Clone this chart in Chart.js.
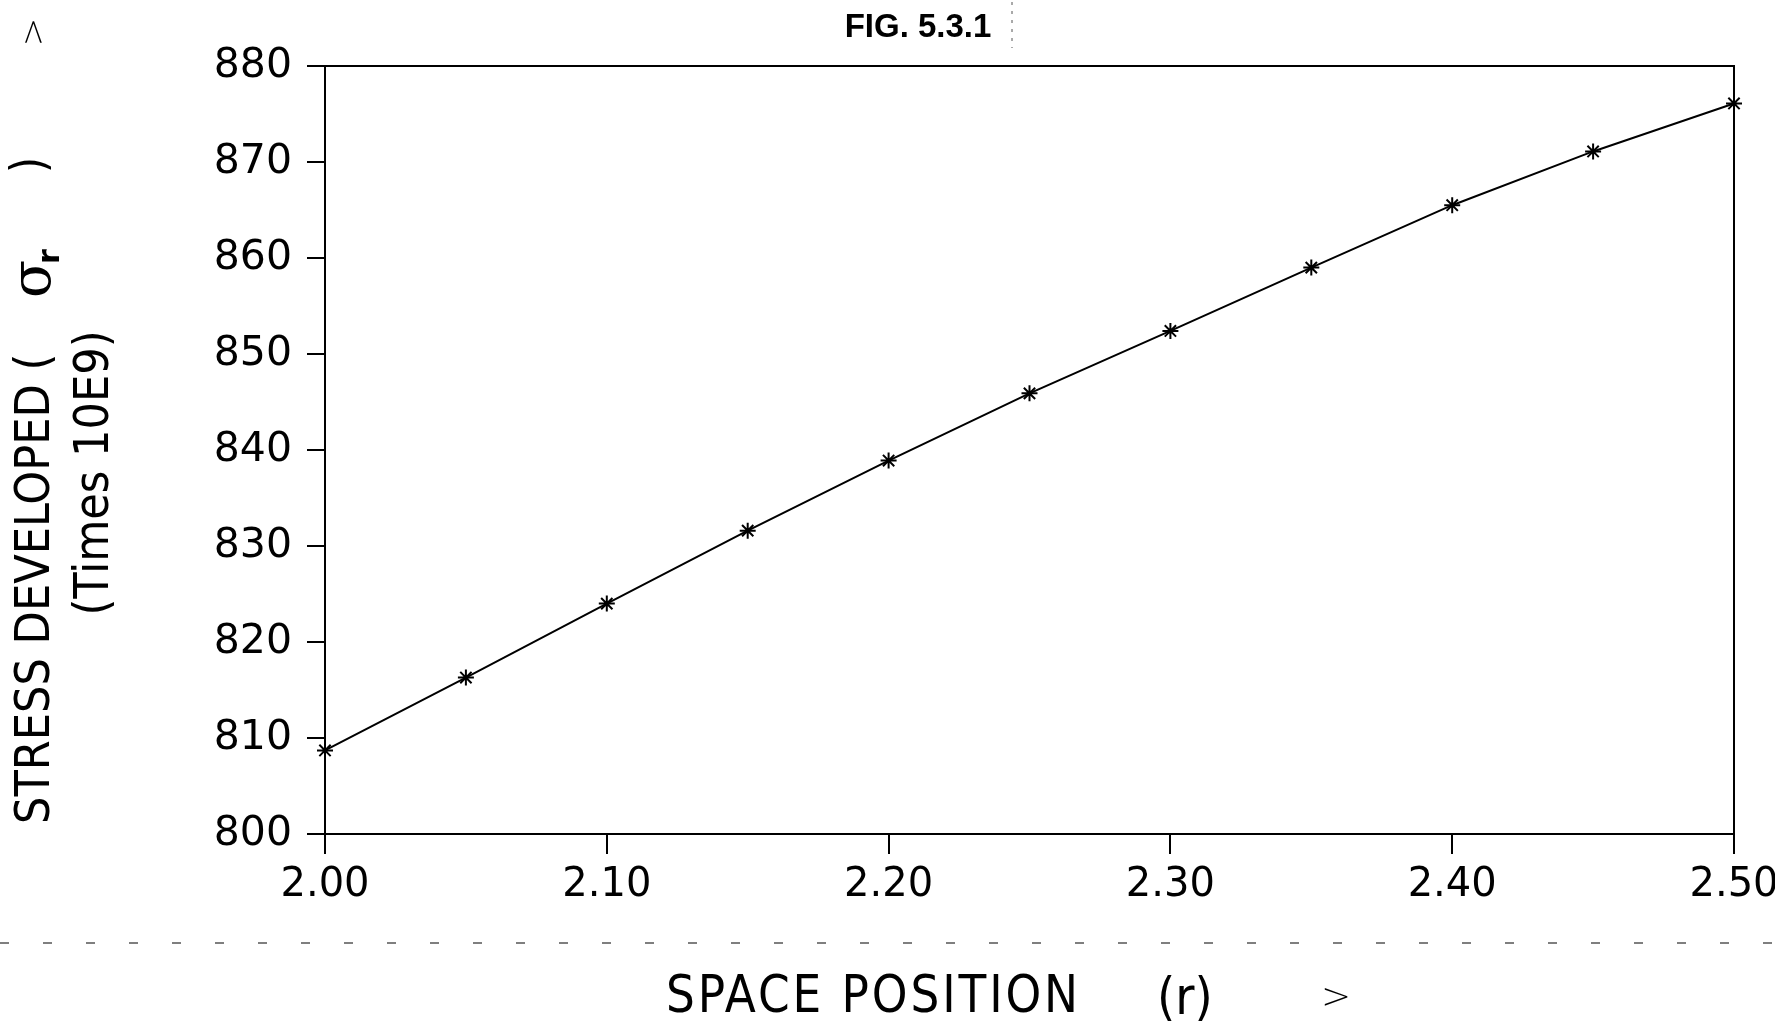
<!DOCTYPE html>
<html>
<head>
<meta charset="utf-8">
<title>FIG. 5.3.1</title>
<script src="https://cdn.jsdelivr.net/npm/chart.js@4/dist/chart.umd.min.js"></script>
<style>
    html, body { margin: 0; padding: 0; background: #fff; }
    #wrap { width: 1775px; height: 1025px; }
</style>
</head>
<body>
<div id="wrap"><canvas id="stressChart" width="1775" height="1025"></canvas></div>
<script>
// space position r
const positions = [2.00, 2.05, 2.10, 2.15, 2.20, 2.25, 2.30, 2.35, 2.40, 2.45, 2.50];
// stress developed (times 10E9)
const stress = [808.7, 816.3, 824.0, 831.6, 838.9, 845.9, 852.4, 859.0, 865.5, 871.1, 876.1];

const figTitle = 'FIG. 5.3.1';
const yTitle = ['STRESS DEVELOPED (', 'σ', 'r', ')', '>'];
const yTitle2 = '(Times 10E9)';
const xTitle = ['SPACE POSITION', '(r)', '>'];

const titleFont = 'bold 33px "Liberation Sans", Arial, sans-serif';
const axisFont = '300 48px "DejaVu Sans Condensed", "Liberation Sans", sans-serif';

const framePlugin = {
    id: 'frameAndText',
    afterDraw(chart) {
        const ctx = chart.ctx;
        const a = chart.chartArea;
        ctx.save();

        // plot frame
        ctx.strokeStyle = '#000';
        ctx.lineWidth = 2;
        ctx.strokeRect(a.left, a.top, a.right - a.left, a.bottom - a.top);

        // figure title
        ctx.fillStyle = '#000';
        ctx.font = titleFont;
        ctx.textAlign = 'center';
        ctx.textBaseline = 'alphabetic';
        ctx.fillText(figTitle, 918, 37);

        // scan artifacts
        ctx.strokeStyle = '#555';
        ctx.lineWidth = 1;
        ctx.setLineDash([3, 6]);
        ctx.beginPath();
        ctx.moveTo(1012, 2);
        ctx.lineTo(1012, 48);
        ctx.stroke();
        ctx.lineWidth = 1.5;
        ctx.setLineDash([9, 34]);
        ctx.beginPath();
        ctx.moveTo(0, 943);
        ctx.lineTo(1775, 943);
        ctx.stroke();
        ctx.setLineDash([]);

        // y axis title, rotated
        ctx.fillStyle = '#000';
        ctx.font = axisFont;
        ctx.translate(37, 0);
        ctx.rotate(-Math.PI / 2);
        ctx.textBaseline = 'middle';
        ctx.textAlign = 'left';
        ctx.fillText(yTitle[0], -824, 0, 496);
        ctx.font = '56px "DejaVu Serif", serif';
        ctx.fillText(yTitle[1], -298, -2, 38);
        ctx.font = 'bold 30px "DejaVu Sans", sans-serif';
        ctx.fillText(yTitle[2], -264, 14);
        ctx.font = axisFont;
        ctx.fillText(yTitle[3], -173, -4, 16);
        ctx.font = '300 34px "DejaVu Sans", sans-serif';
        ctx.textAlign = 'center';
        ctx.fillText(yTitle[4], -32, -2);
        ctx.font = axisFont;
        ctx.fillText(yTitle2, -473, 59, 289);
        ctx.setTransform(1, 0, 0, 1, 0, 0);

        // x axis title
        ctx.font = '300 52px "DejaVu Sans Condensed", "Liberation Sans", sans-serif';
        ctx.letterSpacing = '3px';
        ctx.textBaseline = 'alphabetic';
        ctx.textAlign = 'left';
        ctx.fillText(xTitle[0], 666, 1012, 415);
        ctx.letterSpacing = '0px';
        ctx.fillText(xTitle[1], 1157, 1014, 58);
        ctx.font = '300 36px "DejaVu Sans", sans-serif';
        ctx.textAlign = 'center';
        ctx.fillText(xTitle[2], 1336, 1008);

        ctx.restore();
    }
};

function initializeStressChart() {
    const canvas = document.getElementById('stressChart');

    const points = positions.map((r, i) => ({ x: r, y: stress[i] }));

    const data = {
        datasets: [{
            data: points,
            borderColor: '#000',
            borderWidth: 2,
            pointStyle: 'star',
            pointRadius: 8,
            pointBorderWidth: 2,
            pointBorderColor: '#000',
            pointBackgroundColor: '#000',
            tension: 0,
            clip: false
        }]
    };

    const options = {
        responsive: false,
        animation: false,
        devicePixelRatio: 1,
        layout: {
            padding: { top: 66, right: 41, bottom: 0, left: 0 }
        },
        plugins: {
            legend: { display: false },
            tooltip: { enabled: false }
        },
        scales: {
            x: {
                type: 'linear',
                min: 2.0,
                max: 2.5,
                afterFit: scale => {
                    scale.height = 191;
                    scale.paddingLeft = 0;
                    scale.paddingRight = 0;
                },
                border: { display: true, color: '#000', width: 2 },
                grid: {
                    drawOnChartArea: false,
                    drawTicks: true,
                    tickLength: 20,
                    color: '#000',
                    lineWidth: 2
                },
                ticks: {
                    stepSize: 0.1,
                    padding: 8,
                    color: '#000',
                    maxRotation: 0,
                    font: { family: '"DejaVu Sans", sans-serif', size: 40 },
                    callback: v => Number(v).toFixed(2)
                }
            },
            y: {
                min: 800,
                max: 880,
                afterFit: scale => {
                    scale.width = 325;
                },
                border: { display: true, color: '#000', width: 2 },
                grid: {
                    drawOnChartArea: false,
                    drawTicks: true,
                    tickLength: 18,
                    color: '#000',
                    lineWidth: 2
                },
                ticks: {
                    stepSize: 10,
                    padding: 15,
                    color: '#000',
                    font: { family: '"DejaVu Sans", sans-serif', size: 41 }
                }
            }
        }
    };

    new Chart(canvas, {
        type: 'line',
        data: data,
        options: options,
        plugins: [framePlugin]
    });
}

window.addEventListener('load', initializeStressChart);
</script>
</body>
</html>
